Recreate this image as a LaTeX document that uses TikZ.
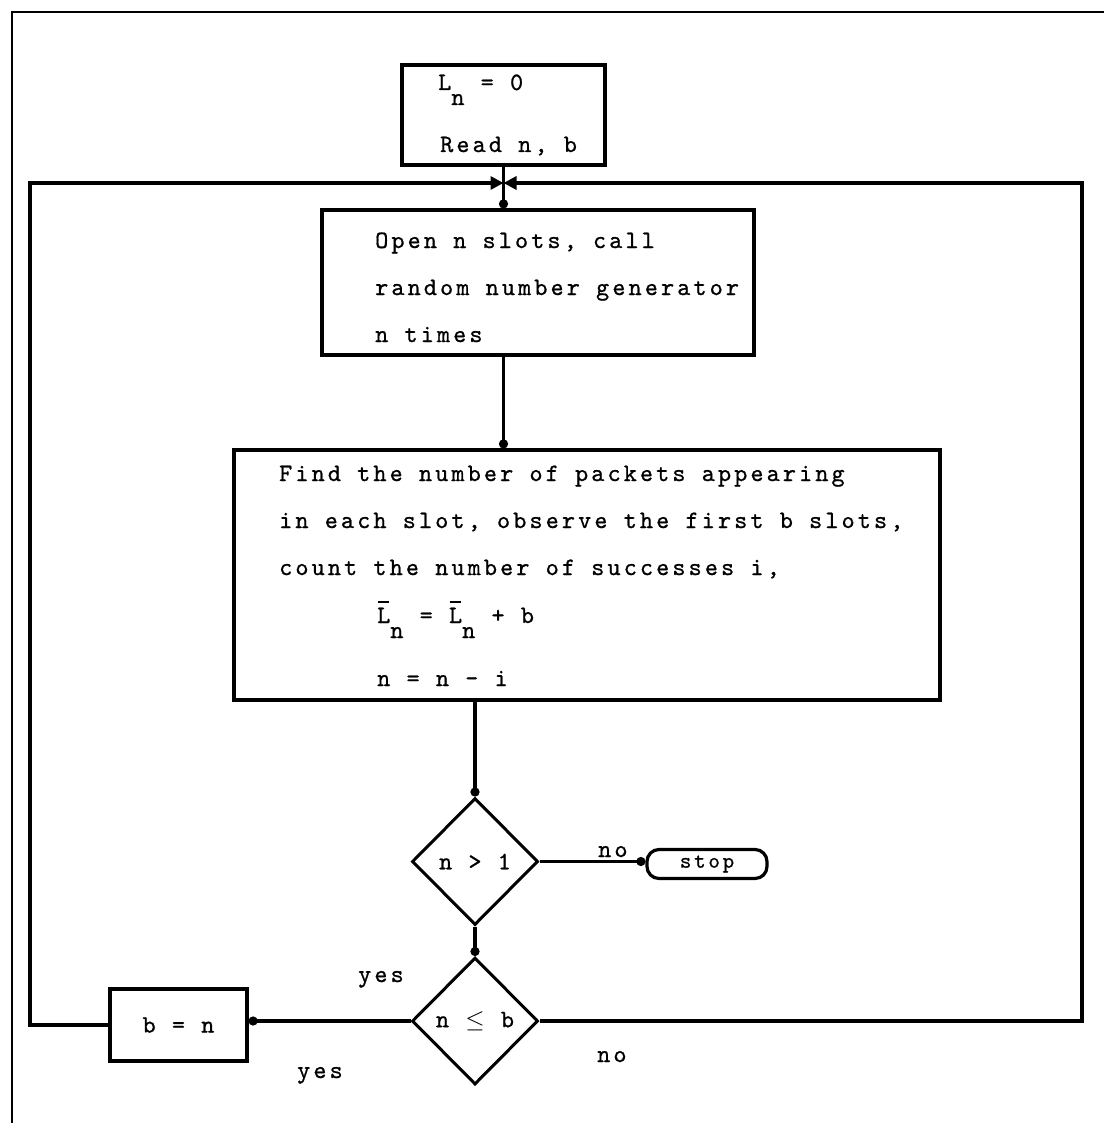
\documentclass[tikz,border=0pt]{standalone}
\usepackage{fontspec}
\usetikzlibrary{arrows.meta,shapes.geometric,calc}
% typewriter face on a wide pitch
\newfontfamily\twfam{lmmono10-regular.otf}[LetterSpace=12.4,FakeBold=0.8]
\newcommand{\twfont}[1]{\twfam\fontsize{#1}{#1}\selectfont}
% L with a bar above it
\newcommand{\barL}{\rlap{\hspace{1pt}\rule[20.5pt]{11pt}{1.4pt}}L}
\newcommand{\subn}{\raisebox{-15pt}{n}}
\begin{document}
\begin{tikzpicture}[x=1pt,y=-1pt,
  line/.style={line width=3.4pt},
  frame/.style={line width=1.8pt},
  blk/.style={draw,line width=3.2pt,rectangle,inner sep=0pt},
  dec/.style={draw,line width=3pt,diamond,inner sep=0pt,minimum width=126pt,minimum height=127pt,font=\twfont{25}},
  term/.style={draw,line width=3.2pt,rectangle,rounded corners=12pt,inner sep=0pt,font=\twfont{22}},
  tw/.style={font=\twfont{25},inner sep=0pt,anchor=base west},
  dot/.style={-{Circle[length=9pt]}},
  meet/.style={-{Triangle[length=13pt,width=13pt]}}]
\useasboundingbox (0,0) rectangle (1104,1123);

% page frame
\coordinate (FR0) at (12,12);
\coordinate (FR1) at (1104,12);
\coordinate (FR2) at (12,1123);
\draw[frame] (FR1) -- (FR0) -- (FR2);

% blocks
\node[blk,minimum width=203pt,minimum height=100pt] (init) at (503.5,115) {};
\node[blk,minimum width=432pt,minimum height=145pt] (gen) at (538,282.5) {};
\node[blk,minimum width=706pt,minimum height=250pt] (count) at (587,575) {};
\node[dec] (d1) at (475,861.5) {n > 1};
\node[term,minimum width=120pt,minimum height=29pt] (stop) at (707,864) {stop};
\node[dec] (d2) at (475,1021) {n $\leq$ b};
\node[blk,minimum width=137pt,minimum height=72pt,font=\twfont{25}] (setb) at (178.5,1025) {b = n};

% block texts
\node[tw] (t1) at (438,90) {L\subn{} = 0};
\node[tw] (t2) at (440,152) {Read n, b};
\node[tw] (t3) at (375,248) {Open n slots, call};
\node[tw] (t4) at (375,295) {random number generator};
\node[tw] (t5) at (375,342) {n times};
\node[tw] (t6) at (279,481) {Find the number of packets appearing};
\node[tw] (t7) at (279,528) {in each slot, observe the first b slots,};
\node[tw] (t8) at (279,575) {count the number of successes i,};
\node[tw] (t9) at (377,623) {\barL\subn{} = \barL\subn{} + b};
\node[tw] (t10) at (377,686) {n = n - i};

% branch labels
\node[tw] (lno1) at (598,857) {no};
\node[tw] (lyes1) at (358,982) {yes};
\node[tw] (lyes2) at (297,1078) {yes};
\node[tw] (lno2) at (597,1062) {no};

% connectors
\coordinate (J) at (503.5,183);
\coordinate (LX) at (30,0);
\coordinate (RX) at (1082,0);
\draw[line,dot] (init.south) -- (init.south |- gen.north);
\draw[line,dot] (init.south |- gen.south) -- (init.south |- count.north);
\draw[line,dot] (d1.north |- count.south) -- (d1.north);
\draw[line,dot] (d1.east) -- (d1.east -| stop.west);
\draw[line,dot] (d1.south) -- (d2.north);
\draw[line,dot] (d2.west) -- (d2.west -| setb.east);
\draw[line,meet] (setb.west) -- (setb.west -| LX) |- (J);
\draw[line,meet] (d2.east) -- (d2.east -| RX) |- (J);
\end{tikzpicture}
\end{document}
